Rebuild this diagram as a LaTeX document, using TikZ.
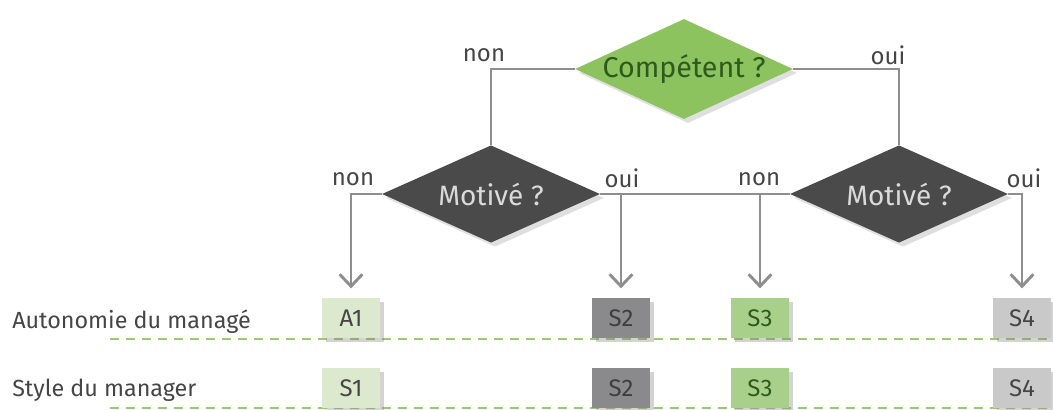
\documentclass[tikz,border=0pt]{standalone}
\usepackage{fontspec}
\setmainfont{Fira Sans}
\usetikzlibrary{shapes.geometric,arrows.meta,shadows}
\definecolor{topgreen}{HTML}{8CC35E}
\definecolor{topgreentext}{HTML}{2F5A1E}
\definecolor{darkdiamond}{HTML}{4A4A4A}
\definecolor{diamondtext}{HTML}{DADADA}
\definecolor{linegray}{HTML}{8E8E8E}
\definecolor{labelgray}{HTML}{454545}
\definecolor{paleGreen}{HTML}{DCE9CE}
\definecolor{midGray}{HTML}{8A8A8C}
\definecolor{midGreen}{HTML}{A9D08B}
\definecolor{lightGray}{HTML}{C9C9C9}
\definecolor{dashgreen}{HTML}{9CC774}
\tikzset{
  decision/.style={shape=diamond, shape aspect=2.2, inner sep=-3pt, minimum width=163.5pt, minimum height=75pt,
    drop shadow={shadow xshift=3pt, shadow yshift=-3pt, opacity=0.25}},
  conn/.style={draw=linegray, line width=2.2pt},
  arr/.style={conn, -{Straight Barb[length=9pt,width=17pt,line width=2.2pt]}, shorten >=7pt},
  branch/.style={font=\fontsize{18}{20}\selectfont, text=labelgray, inner sep=1pt},
  resbox/.style={minimum width=44pt, minimum height=30pt, inner sep=0pt,
    font=\fontsize{18}{20}\selectfont,
    drop shadow={shadow xshift=3pt, shadow yshift=-3pt, opacity=0.35}},
  rowlabel/.style={font=\fontsize{17.5}{20}\selectfont, text=labelgray, anchor=west, inner sep=0pt},
  dashline/.style={draw=dashgreen, line width=1.2pt, dash pattern=on 7pt off 5pt}
}
\begin{document}
\begin{tikzpicture}[x=0.75pt,y=-0.75pt]
\path[use as bounding box] (0,0) rectangle (1053,410);
% dashed row lines
\coordinate (d1s) at (110,339);
\coordinate (d1e) at (1053,339);
\coordinate (d2s) at (110,408);
\coordinate (d2e) at (1053,408);
\draw[dashline] (d1s) -- (d1e);
\draw[dashline] (d2s) -- (d2e);
% decisions
\node[decision, fill=topgreen, text=topgreentext, font=\fontsize{21.5}{23}\selectfont] (C) at (684,69) {Compétent ?};
\node[decision, fill=darkdiamond, text=diamondtext, font=\fontsize{21}{23}\selectfont, minimum height=73pt] (M1) at (491,194) {Motivé ?};
\node[decision, fill=darkdiamond, text=diamondtext, font=\fontsize{21}{23}\selectfont, minimum height=73pt] (M2) at (899,194) {Motivé ?};
% result boxes
\node[resbox, fill=paleGreen, text=labelgray] (A1) at (351,318) {A1};
\node[resbox, fill=midGray, text=labelgray!90!black] (S2a) at (621,318) {S2};
\node[resbox, fill=midGreen, text=topgreentext] (S3a) at (760,318) {S3};
\node[resbox, fill=lightGray, text=labelgray] (S4a) at (1022,318) {S4};
\node[resbox, fill=paleGreen, text=labelgray] (S1) at (351,388) {S1};
\node[resbox, fill=midGray, text=labelgray!90!black] (S2b) at (621,388) {S2};
\node[resbox, fill=midGreen, text=topgreentext] (S3b) at (760,388) {S3};
\node[resbox, fill=lightGray, text=labelgray] (S4b) at (1022,388) {S4};
% row labels
\node[rowlabel] (L1) at (12,322) {Autonomie du managé};
\node[rowlabel] (L2) at (12,390) {Style du manager};
% connectors
\draw[conn] (C.west) -| (M1.north);
\draw[conn] (C.east) -| (M2.north);
\draw[conn] (M1.east) -- (M2.west);
\draw[arr] (M1.west) -| (A1.north);
\draw[arr] (M1.east) -| (S2a.north);
\draw[arr] (M2.west) -| (S3a.north);
\draw[arr] (M2.east) -| (S4a.north);
% branch labels
\node[branch] (n0) at (484,55) {non};
\node[branch] (o0) at (888,55) {oui};
\node[branch] (n1) at (353,179) {non};
\node[branch] (o1) at (622,178) {oui};
\node[branch] (n2) at (759,179) {non};
\node[branch] (o2) at (1024,178) {oui};
\end{tikzpicture}
\end{document}
